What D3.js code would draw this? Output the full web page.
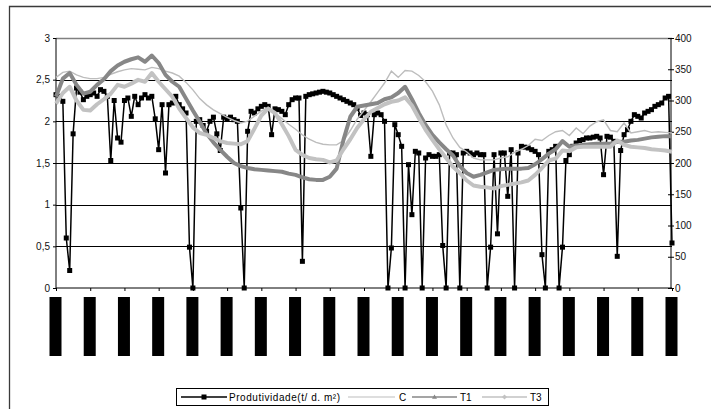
<!DOCTYPE html>
<html>
<head>
<meta charset="utf-8">
<script src="https://cdn.jsdelivr.net/npm/d3@7"></script>
<style>
  html, body { margin: 0; padding: 0; background: #fff; }
  svg { display: block; }
  text { font-family: "Liberation Sans", Arial, sans-serif; }
</style>
</head>
<body>
<svg id="chart" width="711" height="409"></svg>
<script>
// ---- Data ----
// Produtividade (left axis, t/d.m²), one value per day index 0..180
const produtividade = [
  2.32, 2.30, 2.24, 0.60, 0.21, 1.85, 2.40, 2.35, 2.26, 2.30,
  2.32, 2.34, 2.30, 2.38, 2.36, 2.30, 1.53, 2.25, 1.80, 1.75,
  2.25, 2.28, 2.06, 2.30, 2.20, 2.28, 2.32, 2.28, 2.30, 2.03,
  1.66, 2.20, 1.38, 2.20, 2.22, 2.30, 2.20, 2.15, 2.10, 0.49,
  0.00, 2.00, 2.02, 1.95, 1.88, 2.00, 2.05, 1.85, 1.65, 2.05,
  2.03, 2.05, 2.02, 2.00, 0.96, 0.00, 1.88, 2.12, 2.10, 2.15,
  2.18, 2.20, 2.18, 1.84, 2.15, 2.14, 2.12, 2.08, 2.20, 2.26,
  2.28, 2.28, 0.32, 2.30, 2.32, 2.33, 2.34, 2.35, 2.36, 2.35,
  2.34, 2.32, 2.30, 2.28, 2.26, 2.24, 2.22, 2.20, 2.16, 2.07,
  2.10, 2.08, 1.58, 2.08, 2.10, 2.08, 2.00, 0.00, 0.48, 1.96,
  1.84, 1.70, 0.00, 1.48, 0.88, 1.64, 1.62, 0.00, 1.56, 1.60,
  1.58, 1.58, 1.60, 0.51, 0.00, 1.62, 1.62, 1.60, 0.00, 1.62,
  1.64, 1.62, 1.60, 1.62, 1.60, 1.60, 0.00, 0.49, 1.60, 0.65,
  1.62, 1.62, 1.10, 1.66, 0.00, 1.62, 1.70, 1.69, 1.68, 1.66,
  1.64, 1.60, 0.40, 0.00, 1.64, 1.66, 1.70, 0.00, 0.49, 1.53,
  1.60, 1.70, 1.74, 1.77, 1.78, 1.80, 1.80, 1.81, 1.82, 1.80,
  1.36, 1.82, 1.81, 1.76, 0.38, 1.65, 1.84, 1.90, 2.00, 2.08,
  2.06, 2.04, 2.10, 2.12, 2.14, 2.18, 2.20, 2.22, 2.28, 2.30,
  0.54
];
// Right-axis series, one value every 2 day indices (0,2,...,180)
const serieC = [
  337, 345, 347, 341, 337, 335, 335, 337, 342, 346,
  349, 351, 350, 349, 353, 351, 347, 344, 339, 329,
  317, 303, 293, 285, 279, 273, 268, 264, 267, 275,
  283, 289, 280, 271, 262, 254, 245, 238, 233, 230,
  229, 229, 236, 252, 270, 284, 298, 313, 328, 347,
  337, 348, 347, 340, 330, 315, 293, 261, 240, 225,
  218, 208, 205, 205, 205, 208, 210, 217, 222, 228,
  238, 236, 244, 250, 252, 244, 256, 247, 259, 266,
  269, 252, 250, 264, 248, 250, 252, 249, 250, 249,
  248
];
const serieT1 = [
  306, 335, 344, 325, 311, 314, 325, 334, 347, 356,
  362, 366, 369, 362, 372, 360, 341, 330, 322, 303,
  284, 266, 247, 233, 221, 210, 200, 195, 192, 190,
  189, 188, 187, 186, 183, 181, 177, 174, 173, 173,
  178, 191, 237, 274, 290, 292, 294, 296, 302, 305,
  312, 322, 302, 280, 261, 245, 233, 222, 212, 195,
  184, 178, 181, 185, 189, 190, 191, 191, 191, 192,
  198, 206, 215, 222, 235, 226, 228, 229, 230, 231,
  231, 231, 234, 234, 236, 237, 239, 241, 242, 243,
  243
];
const serieT3 = [
  295, 312, 322, 300, 285, 284, 294, 302, 311, 325,
  322, 327, 333, 330, 344, 330, 318, 306, 287, 272,
  257, 248, 245, 240, 235, 232, 231, 230, 235, 255,
  276, 287, 280, 262, 243, 221, 213, 208, 206, 205,
  201, 204, 222, 238, 256, 270, 282, 288, 294, 298,
  300, 305, 292, 272, 253, 237, 222, 208, 194, 184,
  172, 164, 162, 161, 159, 163, 165, 167, 169, 172,
  181, 192, 204, 207, 220, 219, 225, 226, 226, 226,
  226, 226, 236, 229, 226, 225, 224, 222, 221, 220,
  218
];
// Category (date) label positions on the x axis — labels render as solid blocks
const labelDays = [0, 10, 20, 30, 40, 50, 60, 70, 80, 90, 100, 110, 120, 130, 140, 150, 160, 170, 180];
const leftTicks = [0, 0.5, 1, 1.5, 2, 2.5, 3];
const rightTicks = [0, 50, 100, 150, 200, 250, 300, 350, 400];
const seriesNames = ["Produtividade(t/ d. m²)", "C", "T1", "T3"];

// ---- Layout ----
const svg = d3.select("#chart");
const L = 56, R = 672, T = 38, B = 288;
const x = d3.scaleLinear().domain([0, 180]).range([L, R]);
const yL = d3.scaleLinear().domain([0, 3]).range([B, T]);
const yR = d3.scaleLinear().domain([0, 400]).range([B, T]);
const fmt = d => String(d).replace(".", ",");

// Outer chart border (left and top only visible)
svg.append("path")
  .attr("d", "M9.5,409 L9.5,6.5 L711,6.5")
  .attr("fill", "none").attr("stroke", "#3a3a3a").attr("stroke-width", 1.3);

// Gridlines
svg.append("g").selectAll("line").data(leftTicks.filter(d => d > 0))
  .join("line")
  .attr("x1", L).attr("x2", R)
  .attr("y1", d => Math.round(yL(d)) + 0.5).attr("y2", d => Math.round(yL(d)) + 0.5)
  .attr("stroke", d => d === 3 ? "#808080" : "#000")
  .attr("stroke-width", d => d === 3 ? 1.5 : 1);

// Axes
const gL = svg.append("g").attr("transform", `translate(${L},0)`)
  .call(d3.axisLeft(yL).tickValues(leftTicks).tickFormat(fmt).tickSize(3).tickPadding(3));
const gR = svg.append("g").attr("transform", `translate(${R - 1},0)`)
  .call(d3.axisRight(yR).tickValues(rightTicks).tickSize(3).tickPadding(1));
gR.selectAll(".tick line").attr("x1", -3);
const gB = svg.append("g").attr("transform", `translate(0,${B})`)
  .call(d3.axisBottom(x).tickValues(labelDays).tickSize(3).tickFormat(""));
[gL, gR, gB].forEach(g => {
  g.select(".domain").attr("stroke", "#000");
  g.selectAll(".tick line").attr("stroke", "#000");
  g.selectAll("text").attr("font-family", "'Liberation Sans', Arial, sans-serif")
    .attr("font-size", 10).attr("fill", "#111");
});
gL.select(".domain").attr("d", `M0,${T}V${B}`);
gR.select(".domain").attr("d", `M0,${T}V${B}`);
gB.select(".domain").attr("d", `M${L},0H${R}`);

// Category label blocks (rendered solid black in the reference)
svg.append("g").selectAll("rect").data(labelDays).join("rect")
  .attr("x", d => x(d) - 6.5).attr("y", 297)
  .attr("width", 12).attr("height", 59)
  .attr("fill", "#000");

// Produtividade line + square markers
const lineP = d3.line().x((d, i) => x(i)).y(d => yL(d));
svg.append("path").datum(produtividade)
  .attr("d", lineP).attr("fill", "none").attr("stroke", "#000").attr("stroke-width", 1.5);
svg.append("g").selectAll("rect").data(produtividade).join("rect")
  .attr("x", (d, i) => x(i) - 2.5).attr("y", d => yL(d) - 2.5)
  .attr("width", 5).attr("height", 5).attr("fill", "#000");

// Right-axis series
const lineR = d3.line().x((d, i) => x(i * 2)).y(d => yR(d));
svg.append("path").datum(serieC).attr("d", lineR)
  .attr("fill", "none").attr("stroke", "#bdbdbd").attr("stroke-width", 1.4);
svg.append("path").datum(serieT1).attr("d", lineR)
  .attr("fill", "none").attr("stroke", "#878787").attr("stroke-width", 4).attr("stroke-linejoin", "round");
svg.append("path").datum(serieT3).attr("d", lineR)
  .attr("fill", "none").attr("stroke", "#c2c2c2").attr("stroke-width", 4).attr("stroke-linejoin", "round");

// Legend
const lg = svg.append("g");
lg.append("rect").attr("x", 176.5).attr("y", 388.5).attr("width", 372).attr("height", 17)
  .attr("fill", "#fff").attr("stroke", "#000").attr("stroke-width", 1);
const ly = 397;
const items = [
  { x1: 181, x2: 227, tx: 229, color: "#000", w: 1.5, marker: "square", tl: 111 },
  { x1: 348, x2: 395, tx: 399, color: "#bdbdbd", w: 1.2, marker: null },
  { x1: 412, x2: 457, tx: 460, color: "#878787", w: 1.5, marker: "triangle" },
  { x1: 482, x2: 527, tx: 530, color: "#c2c2c2", w: 1.5, marker: "diamond" }
];
items.forEach((it, i) => {
  lg.append("line").attr("x1", it.x1).attr("x2", it.x2).attr("y1", ly).attr("y2", ly)
    .attr("stroke", it.color).attr("stroke-width", it.w);
  const cx = (it.x1 + it.x2) / 2;
  if (it.marker === "square") {
    lg.append("rect").attr("x", cx - 2.5).attr("y", ly - 2.5).attr("width", 5).attr("height", 5).attr("fill", "#000");
  } else if (it.marker === "triangle") {
    lg.append("path").attr("d", `M${cx},${ly - 2.5}L${cx + 2.5},${ly + 1.8}L${cx - 2.5},${ly + 1.8}Z`).attr("fill", it.color);
  } else if (it.marker === "diamond") {
    lg.append("path").attr("d", `M${cx},${ly - 2.5}L${cx + 2.5},${ly}L${cx},${ly + 2.5}L${cx - 2.5},${ly}Z`).attr("fill", it.color);
  }
  const t = lg.append("text").attr("x", it.tx).attr("y", ly + 3.5)
    .attr("font-size", 10).attr("fill", "#000").text(seriesNames[i]);
  if (it.tl) t.attr("textLength", it.tl).attr("lengthAdjust", "spacing");
});
</script>
</body>
</html>
